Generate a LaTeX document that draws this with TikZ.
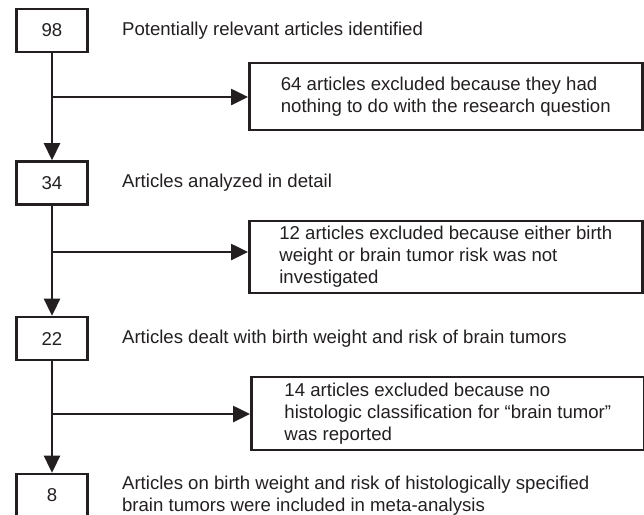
\documentclass[tikz,border=0pt]{standalone}
\usepackage{fontspec}
\setmainfont{Liberation Sans}
\usepackage{tikz}
\usetikzlibrary{arrows.meta,positioning}

\definecolor{ink}{HTML}{231F20}

\begin{document}
\begin{tikzpicture}[ x = 1pt, y = -1pt, line width = 2.6pt, color = ink,
    font = \fontsize{18.6}{22}\selectfont ]
    \useasboundingbox (0,0) rectangle (644,514);

    \tikzset{CountStyle/.style = {draw, minimum width = 71pt, minimum height = 43pt, inner sep = 0pt}}
    \tikzset{ExclStyle/.style = {draw, anchor = west, minimum width = 393pt, align = left, inner sep = 0pt}}
    \tikzset{LabelStyle/.style = {right = 32pt of #1, align = left, inner sep = 0pt}}
    \tikzset{EdgeStyle/.style = {-{Triangle[length = 17pt, width = 16pt]}}}   % filled tips

    \node[CountStyle] (n98) at (52,30.5) {98};
    \node[CountStyle] (n34) at (52,183) {34};
    \node[CountStyle] (n22) at (52,338.5) {22};
    \node[CountStyle] (n8) at (52,495.5) {8};

    \node[LabelStyle = n98] (t98) {Potentially relevant articles identified};
    \node[LabelStyle = n34] (t34) {Articles analyzed in detail};
    \node[LabelStyle = n22] (t22) {Articles dealt with birth weight and risk of brain tumors};
    \node[LabelStyle = n8] (t8) {Articles on birth weight and risk of histologically specified\\
        brain tumors were included in meta-analysis};

    \node[ExclStyle, minimum height = 67pt] (x64) at (248,96.5)
        {64 articles excluded because they had\\nothing to do with the research question};
    \node[ExclStyle, minimum height = 72pt] (x12) at (248,257)
        {12 articles excluded because either birth\\weight or brain tumor risk was not\\investigated};
    \node[ExclStyle, minimum height = 73pt] (x14) at (250,413.5)
        {14 articles excluded because no\\histologic classification for ``brain tumor''\\was reported};

    \coordinate (b1) at (52,97);
    \coordinate (b2) at (52,252);
    \coordinate (b3) at (52,414);

    \draw[EdgeStyle] (n98) -- (n34);
    \draw[EdgeStyle] (n34) -- (n22);
    \draw[EdgeStyle] (n22) -- (n8);

    \draw[EdgeStyle] (b1) -- (x64.west |- b1);
    \draw[EdgeStyle] (b2) -- (x12.west |- b2);
    \draw[EdgeStyle] (b3) -- (x14.west |- b3);

\end{tikzpicture}
\end{document}
